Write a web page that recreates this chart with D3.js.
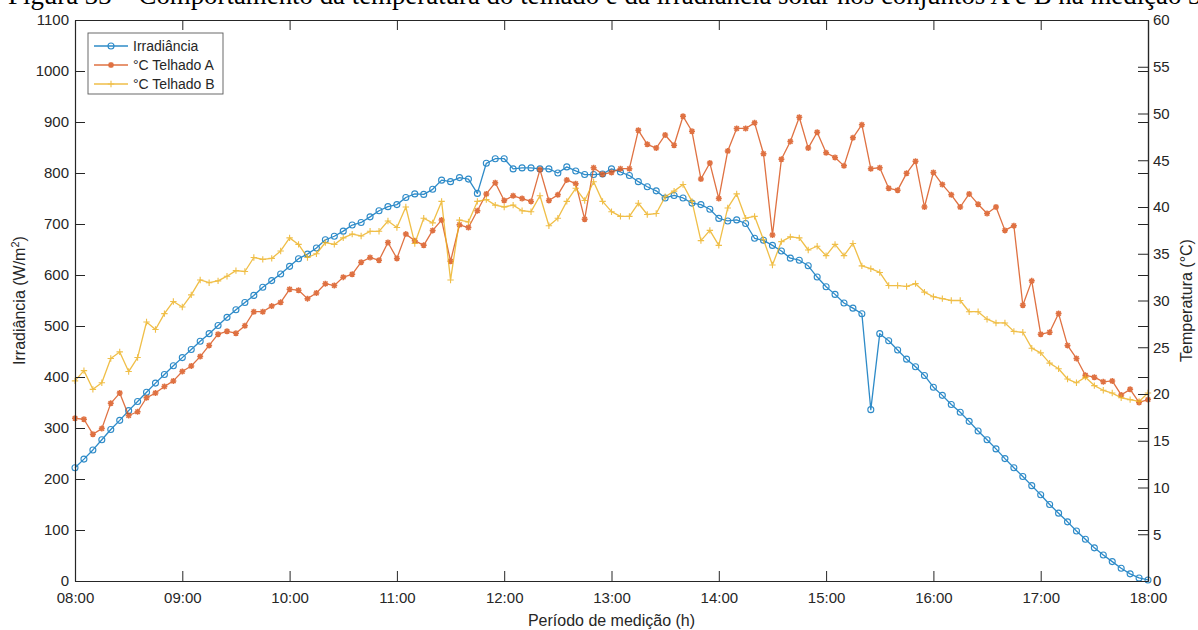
<!DOCTYPE html>
<html>
<head>
<meta charset="utf-8">
<script src="https://cdn.jsdelivr.net/npm/d3@7"></script>
<style>
  html, body { margin: 0; padding: 0; background: #fff; }
  svg { display: block; font-family: "Liberation Sans", Arial, sans-serif; }
</style>
</head>
<body>
<svg id="chart" width="1198" height="630"></svg>
<script>
// Sampling: one reading every 5 minutes from 08:00 to 18:00
const startTime = "08:00";
const stepMinutes = 5;

const xTickLabels = ["08:00", "09:00", "10:00", "11:00", "12:00", "13:00",
                     "14:00", "15:00", "16:00", "17:00", "18:00"];
const leftTicks = [0, 100, 200, 300, 400, 500, 600, 700, 800, 900, 1000, 1100];
const rightTicks = [0, 5, 10, 15, 20, 25, 30, 35, 40, 45, 50, 55, 60];

// Irradiância (W/m²)
const irradiance = [
  222, 239, 257, 277, 297, 315, 334, 352, 370, 388, 405, 422, 438, 454, 470, 485, 501, 517, 532, 546,
  560, 576, 589, 602, 617, 632, 641, 653, 669, 676, 686, 698, 703, 714, 726, 734, 738, 752, 759, 758,
  768, 786, 783, 791, 788, 760, 819, 828, 828, 808, 810, 810, 808, 808, 800, 812, 804, 797, 797, 798,
  808, 802, 795, 783, 773, 765, 751, 756, 751, 741, 738, 729, 711, 706, 708, 701, 672, 668, 658, 647,
  633, 629, 618, 596, 577, 562, 545, 535, 524, 336, 485, 471, 453, 435, 420, 403, 380, 364, 346, 331,
  313, 294, 277, 259, 240, 222, 205, 187, 169, 150, 133, 116, 98, 82, 65, 51, 38, 25, 14, 6, 2
];

// Temperatura do telhado A (°C)
const telhadoA = [
  17.4, 17.3, 15.7, 16.3, 19.0, 20.1, 17.7, 18.1, 19.6, 20.1, 20.8, 21.4, 22.4, 23.0, 24.0, 25.2, 26.4, 26.7, 26.5, 27.3,
  28.8, 28.8, 29.4, 29.8, 31.2, 31.1, 30.2, 30.8, 31.8, 31.6, 32.5, 32.8, 34.1, 34.6, 34.3, 36.2, 34.5, 37.1, 36.4, 35.9,
  37.5, 38.6, 34.2, 38.1, 37.8, 39.6, 41.4, 42.6, 40.7, 41.2, 40.9, 40.6, 44.0, 40.7, 41.3, 42.9, 42.5, 38.7, 44.2, 43.5,
  43.7, 44.1, 44.1, 48.2, 46.7, 46.3, 47.7, 46.6, 49.7, 48.1, 43.0, 44.7, 40.9, 46.0, 48.4, 48.4, 49.0, 45.7, 37.0, 45.1,
  47.0, 49.6, 46.3, 48.0, 45.8, 45.3, 44.4, 47.4, 48.8, 44.1, 44.2, 42.0, 41.8, 43.6, 44.9, 40.0, 43.7, 42.4, 41.3, 40.0,
  41.4, 40.3, 39.3, 40.0, 37.5, 38.0, 29.5, 32.1, 26.4, 26.6, 28.6, 25.2, 23.8, 22.0, 21.8, 21.3, 21.4, 19.9, 20.5, 19.1, 19.4
];

// Temperatura do telhado B (°C)
const telhadoB = [
  21.4, 22.5, 20.5, 21.2, 23.8, 24.5, 22.4, 23.9, 27.7, 26.9, 28.6, 29.9, 29.3, 30.6, 32.2, 31.9, 32.1, 32.6, 33.2, 33.1,
  34.6, 34.4, 34.5, 35.3, 36.7, 36.0, 34.6, 35.0, 36.2, 36.0, 36.7, 37.1, 36.9, 37.4, 37.4, 38.5, 37.8, 40.0, 36.1, 38.8,
  38.3, 40.6, 32.2, 38.6, 38.4, 40.6, 40.8, 40.2, 40.0, 40.2, 39.6, 39.5, 41.2, 38.0, 38.8, 40.6, 42.0, 40.7, 42.7, 40.6,
  39.5, 39.0, 39.0, 40.4, 39.2, 39.3, 41.1, 41.7, 42.4, 40.6, 36.4, 37.5, 35.9, 39.9, 41.4, 38.8, 39.0, 36.5, 33.8, 36.3,
  36.8, 36.7, 35.4, 35.8, 34.8, 36.0, 34.8, 36.1, 33.7, 33.4, 33.0, 31.6, 31.6, 31.5, 31.8, 30.9, 30.4, 30.2, 30.0, 30.0,
  28.8, 28.8, 28.0, 27.6, 27.6, 26.7, 26.6, 24.9, 24.4, 23.3, 22.7, 21.6, 21.2, 21.8, 20.9, 20.4, 20.1, 19.6, 19.4, 19.2, 20.1
];

const titleText = "Figura 33 – Comportamento da temperatura do telhado e da irradiância solar nos conjuntos A e B na medição 3";

// ---- layout ----
const L = 75, R = 1148, T = 20, B = 581;
const axisColor = "#262626";

const svg = d3.select("#chart");
const parse = d3.timeParse("%H:%M");
const fmt = d3.timeFormat("%H:%M");
const t0 = parse(startTime);
const times = irradiance.map((_, i) => new Date(t0.getTime() + i * stepMinutes * 60000));
const xTicks = xTickLabels.map(parse);

const x = d3.scaleTime().domain([xTicks[0], xTicks[xTicks.length - 1]]).range([L, R]);
const yL = d3.scaleLinear().domain([0, 1100]).range([B, T]);
const yR = d3.scaleLinear().domain([0, 60]).range([B, T]);

// ---- caption line running off the top of the page ----
const title = svg.append("text")
  .attr("x", 8).attr("y", 4)
  .style("font-family", "'Liberation Serif', 'Times New Roman', serif")
  .style("font-size", "20px")
  .attr("fill", "#000")
  .text(titleText);
const tw = title.node().getComputedTextLength();
title.style("font-size", (20 * 1194 / tw) + "px");

// ---- series ----
const series = [
  { name: "Irradiância", values: irradiance, y: yL, color: "#0072BD", marker: "circle" },
  { name: "°C Telhado A", values: telhadoA, y: yR, color: "#D95319", marker: "asterisk" },
  { name: "°C Telhado B", values: telhadoB, y: yR, color: "#EDB120", marker: "plus" }
];

const markerPaths = {
  asterisk: "M-3,0H3M0,-3V3M-2.2,-2.2L2.2,2.2M-2.2,2.2L2.2,-2.2",
  plus: "M-3.2,0H3.2M0,-3.2V3.2"
};

function drawMarker(g, type, color) {
  if (type === "circle") {
    g.append("circle").attr("r", 3).attr("fill", "none")
      .attr("stroke", color).attr("stroke-width", 1.1);
  } else {
    g.append("path").attr("d", markerPaths[type]).attr("fill", "none")
      .attr("stroke", color).attr("stroke-width", type === "asterisk" ? 1.5 : 1.1);
  }
}

const plot = svg.append("g");
series.forEach(s => {
  const line = d3.line().x((d, i) => x(times[i])).y(d => s.y(d));
  const g = plot.append("g").attr("opacity", 0.82);
  g.append("path").datum(s.values)
    .attr("d", line).attr("fill", "none")
    .attr("stroke", s.color).attr("stroke-width", 1.3)
    .attr("stroke-linejoin", "round");
  g.selectAll("g.m").data(s.values).join("g")
    .attr("class", "m")
    .attr("transform", (d, i) => `translate(${x(times[i])},${s.y(d)})`)
    .each(function () { drawMarker(d3.select(this), s.marker, s.color); });
});

// ---- axes ----
function styleAxis(g) {
  g.selectAll(".domain").attr("stroke", axisColor).attr("stroke-width", 1.2);
  g.selectAll(".tick line").attr("stroke", axisColor).attr("stroke-width", 1);
  g.selectAll(".tick text").attr("fill", axisColor).style("font-size", "15px")
    .style("font-family", "'Liberation Sans', Arial, sans-serif");
}

svg.append("g").attr("transform", `translate(0,${B})`)
  .call(d3.axisBottom(x).tickValues(xTicks).tickFormat(fmt)
    .tickSizeInner(-10).tickSizeOuter(0).tickPadding(11))
  .call(styleAxis);

svg.append("g").attr("transform", `translate(0,${T})`)
  .call(d3.axisTop(x).tickValues(xTicks).tickFormat("")
    .tickSizeInner(-10).tickSizeOuter(0))
  .call(styleAxis);

svg.append("g").attr("transform", `translate(${L},0)`)
  .call(d3.axisLeft(yL).tickValues(leftTicks).tickFormat(d3.format("d"))
    .tickSizeInner(-10).tickSizeOuter(0).tickPadding(6))
  .call(styleAxis);

svg.append("g").attr("transform", `translate(${R},0)`)
  .call(d3.axisRight(yL).tickValues(leftTicks).tickFormat("")
    .tickSizeInner(-10).tickSizeOuter(0))
  .call(styleAxis);

svg.append("g").attr("transform", `translate(${R},0)`)
  .call(d3.axisRight(yR).tickValues(rightTicks).tickFormat(d3.format("d"))
    .tickSizeInner(-10).tickSizeOuter(0).tickPadding(5))
  .call(styleAxis);

// ---- axis titles ----
const labelStyle = sel => sel.attr("fill", axisColor).attr("text-anchor", "middle")
  .style("font-size", "16px").style("font-family", "'Liberation Sans', Arial, sans-serif");

svg.append("text").attr("x", (L + R) / 2).attr("y", 626)
  .call(labelStyle).text("Período de medição (h)");

const yLab = svg.append("text")
  .attr("transform", `translate(25,${(T + B) / 2}) rotate(-90)`)
  .call(labelStyle);
yLab.append("tspan").text("Irradiância (W/m");
yLab.append("tspan").attr("dy", -6).style("font-size", "11px").text("2");
yLab.append("tspan").attr("dy", 6).text(")");

svg.append("text")
  .attr("transform", `translate(1192,${(T + B) / 2}) rotate(-90)`)
  .call(labelStyle).text("Temperatura (°C)");

// ---- legend ----
const leg = svg.append("g").attr("transform", "translate(88,33)");
leg.append("rect").attr("width", 135).attr("height", 61)
  .attr("fill", "#fff").attr("stroke", "#5a5a5a").attr("stroke-width", 0.9);
series.forEach((s, k) => {
  const row = leg.append("g").attr("transform", `translate(0,${13 + k * 19})`);
  const g = row.append("g").attr("opacity", 0.82);
  g.append("line").attr("x1", 6).attr("x2", 40).attr("stroke", s.color).attr("stroke-width", 1.3);
  const m = g.append("g").attr("transform", "translate(23,0)");
  drawMarker(m, s.marker, s.color);
  row.append("text").attr("x", 45).attr("y", 5)
    .attr("fill", axisColor).style("font-size", "14px").text(s.name);
});
</script>
</body>
</html>
